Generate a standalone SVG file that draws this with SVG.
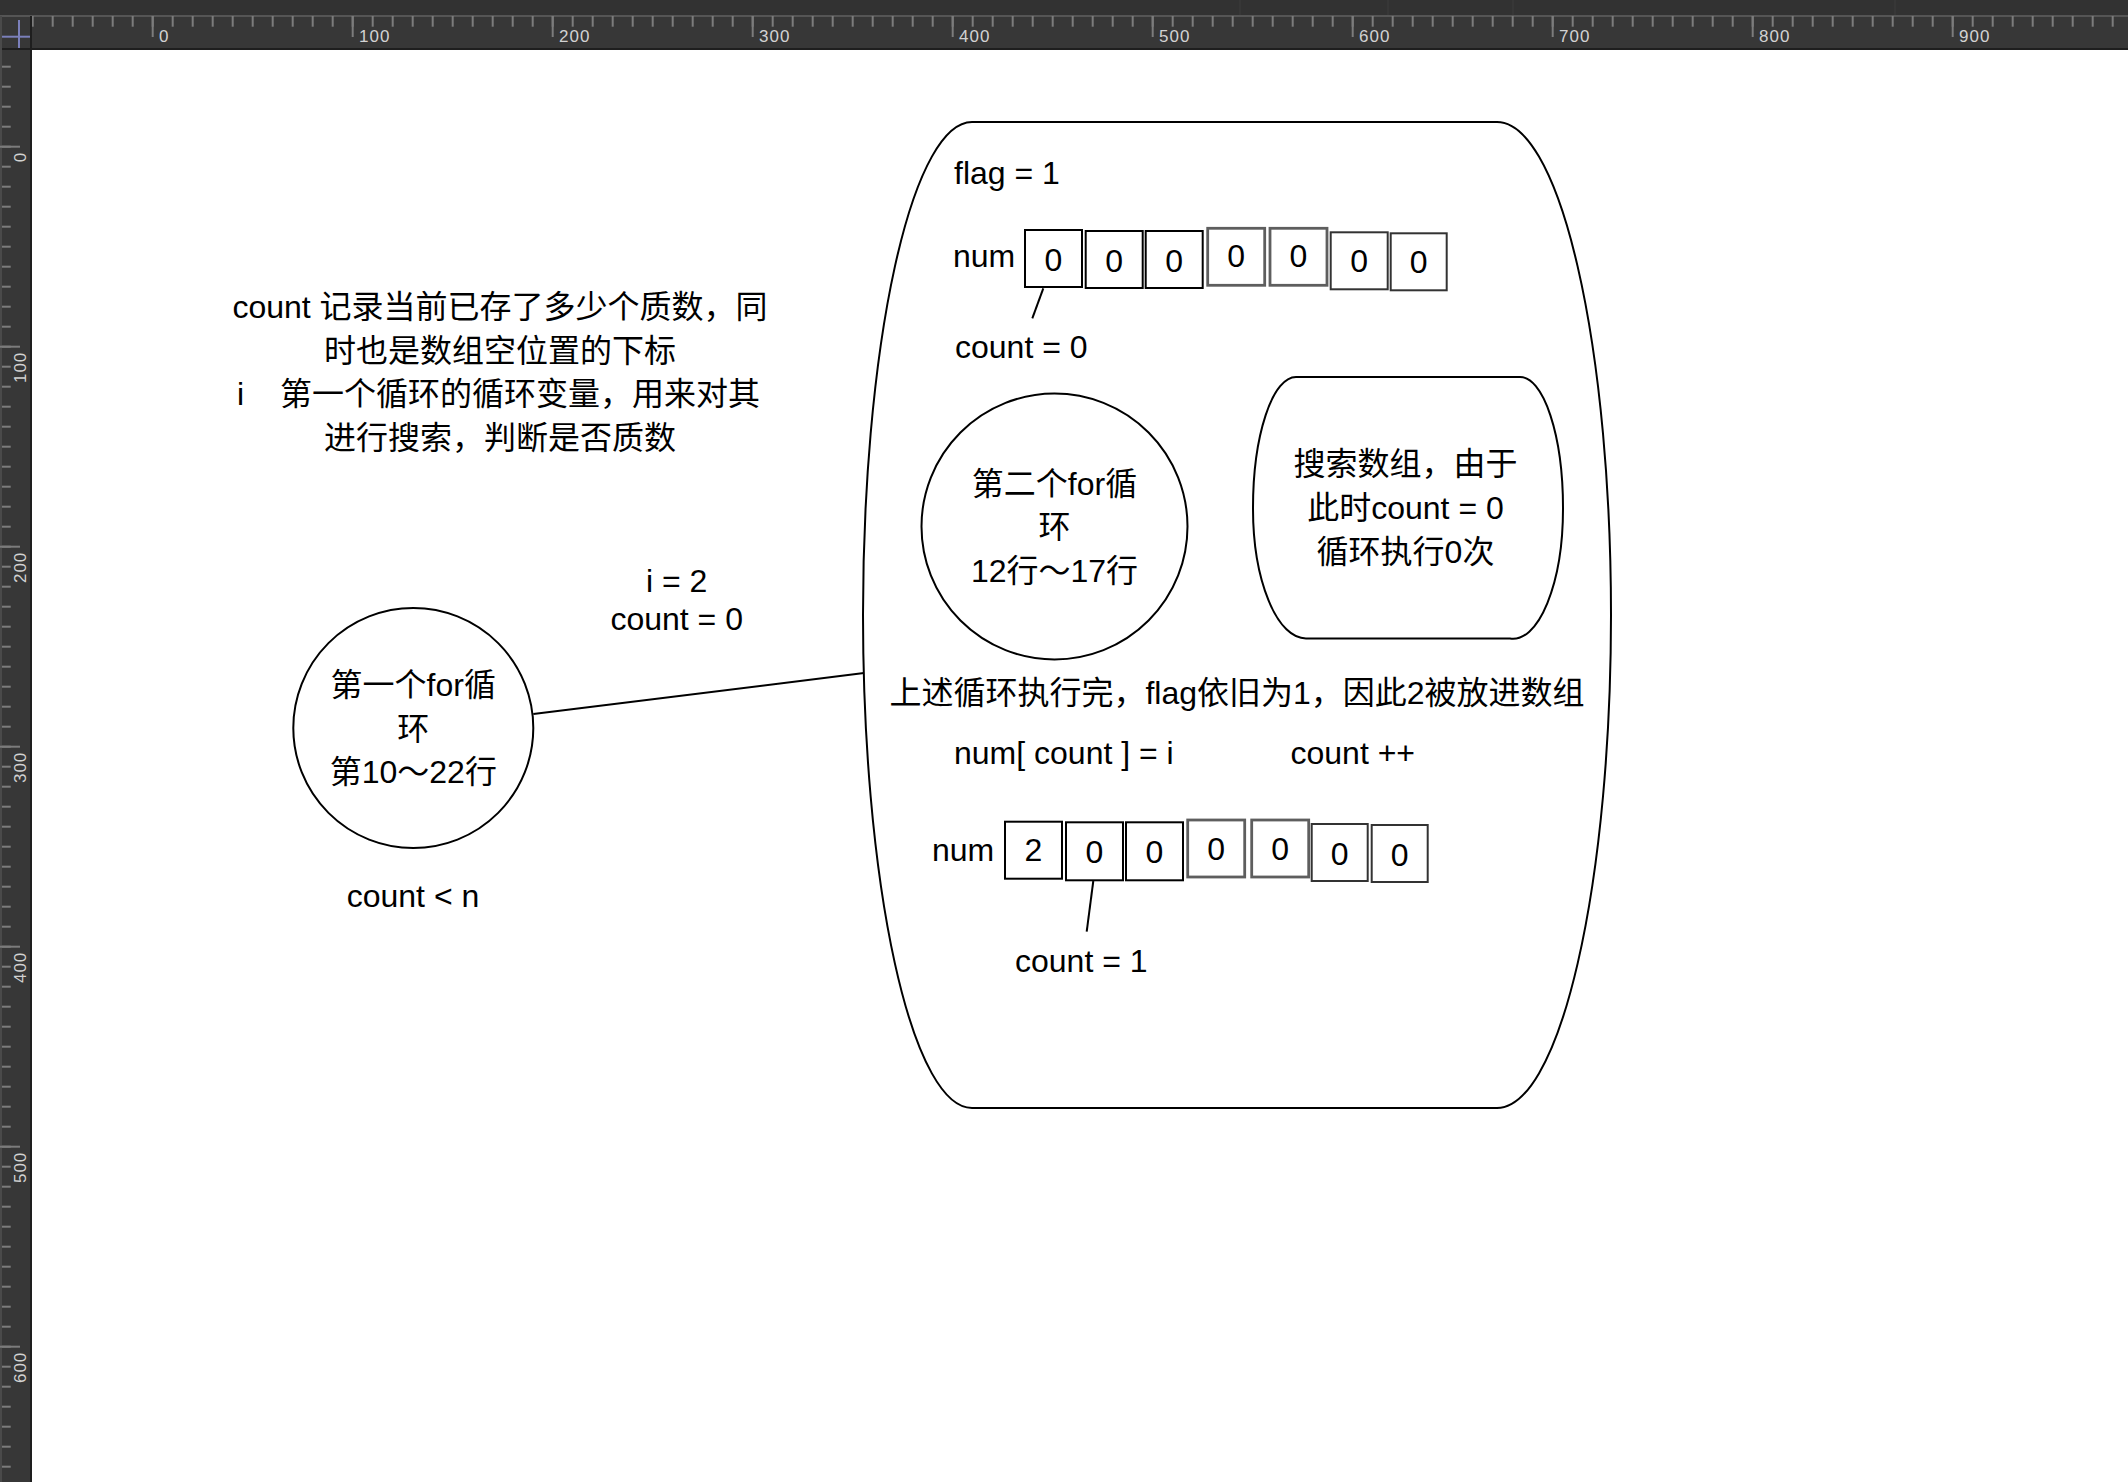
<svg xmlns="http://www.w3.org/2000/svg" width="2128" height="1482" viewBox="0 0 2128 1482">
<style>
.t{font-family:"Liberation Sans","Noto Sans CJK SC",sans-serif;font-size:32px;fill:#000}
.m{text-anchor:middle}
.s{fill:none;stroke:#000;stroke-width:2}
.cell{fill:#fff;stroke:#000;stroke-width:2}
.cellg{fill:#fff;stroke:#5e5e5e;stroke-width:2.8}
.celld{fill:#fff;stroke:#333333;stroke-width:2}
.rl{font-family:"Liberation Sans",sans-serif;font-size:17px;fill:#d2d2d2;letter-spacing:1px}
.tk{stroke:#7c7c7c;stroke-width:2}
</style>
<defs>
<pattern id="tickH" patternUnits="userSpaceOnUse" x="151.7" y="16" width="20" height="40">
<rect x="0" y="0" width="2" height="10.7" fill="#7c7c7c"/>
</pattern>
<pattern id="tickV" patternUnits="userSpaceOnUse" x="0" y="145.7" width="40" height="20">
<rect x="0" y="0" width="10.7" height="2" fill="#7c7c7c"/>
</pattern>
</defs>
<rect x="0" y="0" width="2128" height="1482" fill="#ffffff"/>
<g id="rulers">
<rect x="0" y="0" width="2128" height="16" fill="#323232"/>
<line x1="1240" y1="0" x2="1240" y2="15" stroke="#3c3c3c" stroke-width="1"/>
<line x1="1388" y1="0" x2="1388" y2="15" stroke="#3c3c3c" stroke-width="1"/>
<line x1="1513" y1="0" x2="1513" y2="15" stroke="#3c3c3c" stroke-width="1"/>
<line x1="1895" y1="0" x2="1895" y2="15" stroke="#3c3c3c" stroke-width="1"/>
<rect x="0" y="16" width="2128" height="32" fill="#373737"/>
<rect x="0" y="48" width="32" height="1434" fill="#373737"/>
<rect x="0" y="15" width="2128" height="2" fill="#555555"/>
<rect x="32" y="16" width="2096" height="32" fill="url(#tickH)"/>
<rect x="0" y="50" width="30" height="1432" fill="url(#tickV)"/>
<rect x="0" y="48" width="2128" height="2" fill="#1e1e1e"/>
<rect x="30" y="16" width="2" height="1466" fill="#1e1e1e"/>
<rect x="0" y="16" width="2" height="1466" fill="#4a4a4a"/>
<line x1="19" y1="20" x2="19" y2="48" stroke="#7b80bb" stroke-width="2"/>
<line x1="2" y1="36.7" x2="30" y2="36.7" stroke="#7b80bb" stroke-width="2"/>
<g class="tk">
<line x1="152.7" y1="16" x2="152.7" y2="37"/>
<line x1="352.7" y1="16" x2="352.7" y2="37"/>
<line x1="552.7" y1="16" x2="552.7" y2="37"/>
<line x1="752.7" y1="16" x2="752.7" y2="37"/>
<line x1="952.7" y1="16" x2="952.7" y2="37"/>
<line x1="1152.7" y1="16" x2="1152.7" y2="37"/>
<line x1="1352.7" y1="16" x2="1352.7" y2="37"/>
<line x1="1552.7" y1="16" x2="1552.7" y2="37"/>
<line x1="1752.7" y1="16" x2="1752.7" y2="37"/>
<line x1="1952.7" y1="16" x2="1952.7" y2="37"/>
<line x1="0" y1="146.7" x2="20" y2="146.7"/>
<line x1="0" y1="346.7" x2="20" y2="346.7"/>
<line x1="0" y1="546.7" x2="20" y2="546.7"/>
<line x1="0" y1="746.7" x2="20" y2="746.7"/>
<line x1="0" y1="946.7" x2="20" y2="946.7"/>
<line x1="0" y1="1146.7" x2="20" y2="1146.7"/>
<line x1="0" y1="1346.7" x2="20" y2="1346.7"/>
</g>
<text class="rl" x="159" y="42">0</text>
<text class="rl" x="359" y="42">100</text>
<text class="rl" x="559" y="42">200</text>
<text class="rl" x="759" y="42">300</text>
<text class="rl" x="959" y="42">400</text>
<text class="rl" x="1159" y="42">500</text>
<text class="rl" x="1359" y="42">600</text>
<text class="rl" x="1559" y="42">700</text>
<text class="rl" x="1759" y="42">800</text>
<text class="rl" x="1959" y="42">900</text>
<text class="rl" text-anchor="end" transform="translate(26 151.7) rotate(-90)">0</text>
<text class="rl" text-anchor="end" transform="translate(26 351.7) rotate(-90)">100</text>
<text class="rl" text-anchor="end" transform="translate(26 551.7) rotate(-90)">200</text>
<text class="rl" text-anchor="end" transform="translate(26 751.7) rotate(-90)">300</text>
<text class="rl" text-anchor="end" transform="translate(26 951.7) rotate(-90)">400</text>
<text class="rl" text-anchor="end" transform="translate(26 1151.7) rotate(-90)">500</text>
<text class="rl" text-anchor="end" transform="translate(26 1351.7) rotate(-90)">600</text>
</g>

<g id="note">
<text class="t m" x="500" y="317.7">count 记录当前已存了多少个质数，同</text>
<text class="t m" x="500" y="361.5">时也是数组空位置的下标</text>
<text class="t" y="405"><tspan x="237">i</tspan><tspan x="280">第一个循环的循环变量，用来对其</tspan></text>
<text class="t m" x="500" y="449">进行搜索，判断是否质数</text>
</g>

<g id="connectors">
<line class="s" x1="533.3" y1="714" x2="864" y2="673"/>
<line class="s" x1="1043.3" y1="288.3" x2="1032.3" y2="318.3"/>
<line class="s" x1="1093.3" y1="881" x2="1086.7" y2="931.7"/>
</g>

<g id="loop1">
<circle class="s" cx="413.3" cy="728" r="120"/>
<text class="t m" x="413.3" y="696">第一个for循</text>
<text class="t m" x="413.3" y="739.5">环</text>
<text class="t m" x="413.3" y="783">第10～22行</text>
</g>
<g id="loop1-cond">
<text class="t m" x="413" y="907">count &lt; n</text>
</g>
<g id="edge-label">
<text class="t m" x="676.7" y="592">i = 2</text>
<text class="t m" x="676.7" y="630">count = 0</text>
</g>

<g id="body">
<path class="s" d="M 972,122 H 1497 A 114 493 0 0 1 1611 615 A 114 493 0 0 1 1497 1108 H 972 A 109 493 0 0 1 863 615 A 109 493 0 0 1 972 122 Z"/>
</g>

<g id="flag">
<text class="t" x="954" y="184">flag = 1</text>
</g>

<g id="array1">
<text class="t" x="953" y="267">num</text>
<rect class="cell" x="1025" y="230" width="57" height="57"/>
<rect class="cell" x="1085.7" y="231" width="57" height="57"/>
<rect class="cell" x="1145.7" y="231" width="57" height="57"/>
<rect class="cellg" x="1207.7" y="228.3" width="57" height="57"/>
<rect class="cellg" x="1270" y="228.3" width="57" height="57"/>
<rect class="celld" x="1330.7" y="232.3" width="57" height="57"/>
<rect class="celld" x="1390.7" y="233.3" width="56" height="57"/>
<text class="t m" x="1053.5" y="271">0</text>
<text class="t m" x="1114.2" y="272">0</text>
<text class="t m" x="1174.2" y="272">0</text>
<text class="t m" x="1236.2" y="267">0</text>
<text class="t m" x="1298.5" y="267">0</text>
<text class="t m" x="1359.2" y="272">0</text>
<text class="t m" x="1418.7" y="273">0</text>
</g>
<g id="count0">
<text class="t" x="955" y="358">count = 0</text>
</g>

<g id="loop2">
<circle class="s" cx="1054.5" cy="526.5" r="133"/>
<text class="t m" x="1054.5" y="494.5">第二个for循</text>
<text class="t m" x="1054.5" y="538">环</text>
<text class="t m" x="1054.5" y="581.5">12行～17行</text>
</g>

<g id="search">
<path class="s" d="M 1296,377 H 1520 A 43 131 0 0 1 1563 508 A 50 130 0 0 1 1510 638.5 H 1306 A 53 130 0 0 1 1253 508 A 43 131 0 0 1 1296 377 Z"/>
<text class="t m" x="1405.5" y="475">搜索数组，由于</text>
<text class="t m" x="1405.5" y="519">此时count = 0</text>
<text class="t m" x="1405.5" y="562.5">循环执行0次</text>
</g>

<g id="summary">
<text class="t m" x="1237" y="704">上述循环执行完，flag依旧为1，因此2被放进数组</text>
</g>
<g id="assign">
<text class="t" x="954" y="764">num[ count ] = i</text>
</g>
<g id="increment">
<text class="t" x="1290.5" y="764">count ++</text>
</g>

<g id="array2">
<text class="t" x="932" y="861">num</text>
<rect class="cell" x="1005" y="821.7" width="57" height="57"/>
<rect class="cell" x="1066" y="822.3" width="57" height="58"/>
<rect class="cell" x="1126" y="822.3" width="57" height="58"/>
<rect class="cellg" x="1187.7" y="820" width="57" height="57"/>
<rect class="cellg" x="1251.7" y="820" width="57" height="57"/>
<rect class="celld" x="1311.7" y="824" width="56" height="57"/>
<rect class="celld" x="1371.7" y="825" width="56" height="57"/>
<text class="t m" x="1033.5" y="861">2</text>
<text class="t m" x="1094.5" y="863">0</text>
<text class="t m" x="1154.5" y="863">0</text>
<text class="t m" x="1216.2" y="860">0</text>
<text class="t m" x="1280.2" y="860">0</text>
<text class="t m" x="1339.7" y="865">0</text>
<text class="t m" x="1399.7" y="866">0</text>
</g>
<g id="count1">
<text class="t" x="1015" y="972">count = 1</text>
</g>
</svg>
